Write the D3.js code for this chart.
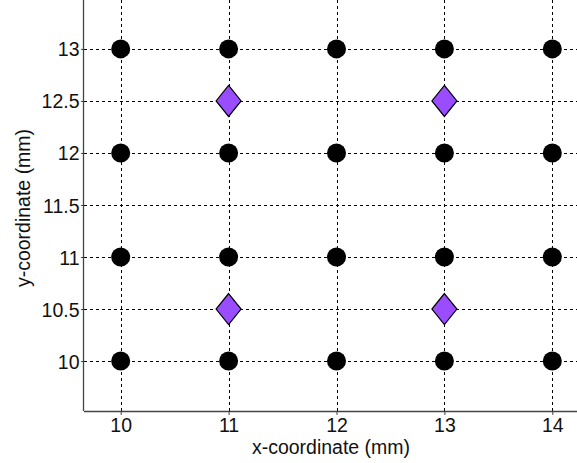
<!DOCTYPE html>
<html>
<head>
<meta charset="utf-8">
<script src="https://cdnjs.cloudflare.com/ajax/libs/d3/7.8.5/d3.min.js"></script>
<style>
  html, body { margin: 0; padding: 0; background: #fff; }
  svg { display: block; }
  text { font-family: "Liberation Sans", Arial, sans-serif; }
</style>
</head>
<body>
<svg id="chart" width="577" height="463"></svg>
<script>
// Sensor grid positions (mm)
const circleX = [10, 11, 12, 13, 14, 10, 11, 12, 13, 14, 10, 11, 12, 13, 14, 10, 11, 12, 13, 14];
const circleY = [13, 13, 13, 13, 13, 12, 12, 12, 12, 12, 11, 11, 11, 11, 11, 10, 10, 10, 10, 10];
// Source positions (mm)
const diamondX = [11, 13, 11, 13];
const diamondY = [12.5, 12.5, 10.5, 10.5];
// Axis ticks
const xTicks = [10, 11, 12, 13, 14];
const yTicks = [10, 10.5, 11, 11.5, 12, 12.5, 13];
const xLabel = "x-coordinate (mm)";
const yLabel = "y-coordinate (mm)";

const svg = d3.select("#chart");
const plotLeft = 84, plotRight = 589, plotTop = 0, plotBottom = 411;

const x = d3.scaleLinear().domain([9.66, 14.34]).range([plotLeft, plotRight]);
const y = d3.scaleLinear().domain([9.52, 13.47]).range([plotBottom, plotTop]);

const fontSize = 19.5;
const axisColor = "#444";

// Grid lines
const grid = svg.append("g");
grid.selectAll("line.vx").data(xTicks).join("line")
  .attr("x1", d => Math.round(x(d)) + 0.5).attr("x2", d => Math.round(x(d)) + 0.5)
  .attr("y1", plotBottom).attr("y2", -5)
  .attr("stroke", "#000").attr("stroke-width", 1)
  .attr("stroke-dasharray", "3,3");
grid.selectAll("line.hy").data(yTicks).join("line")
  .attr("x1", plotLeft).attr("x2", 600)
  .attr("y1", d => Math.round(y(d)) + 0.5).attr("y2", d => Math.round(y(d)) + 0.5)
  .attr("stroke", "#000").attr("stroke-width", 1)
  .attr("stroke-dasharray", "3,3");

// Axes
const xAxis = d3.axisBottom(x).tickValues(xTicks).tickSize(4).tickPadding(3.5).tickFormat(d3.format("~g"));
const yAxis = d3.axisLeft(y).tickValues(yTicks).tickSize(3).tickPadding(1.5).tickFormat(d3.format("~g"));

const gx = svg.append("g").attr("transform", `translate(0,${plotBottom})`).call(xAxis);
const gy = svg.append("g").attr("transform", `translate(${plotLeft},0)`).call(yAxis);
[gx, gy].forEach(g => {
  g.attr("font-size", fontSize).attr("font-family", '"Liberation Sans", Arial, sans-serif');
  g.select(".domain").attr("stroke", axisColor).attr("stroke-width", 1.3);
  g.selectAll(".tick line").attr("stroke", axisColor);
  g.selectAll(".tick text").attr("fill", "#111");
});
gy.selectAll(".tick text").attr("dy", "0.36em");
gx.select(".domain").attr("d", `M${plotLeft},0.5H${plotRight}`);
gy.select(".domain").attr("d", `M-0.5,${plotBottom}V-5`);

// Circle markers
svg.append("g").selectAll("circle").data(circleX.map((d, i) => [d, circleY[i]])).join("circle")
  .attr("cx", d => x(d[0])).attr("cy", d => y(d[1]))
  .attr("r", 9.5).attr("fill", "#000");

// Diamond markers
svg.append("g").selectAll("path").data(diamondX.map((d, i) => [d, diamondY[i]])).join("path")
  .attr("d", d => {
    const cx = x(d[0]), cy = y(d[1]), hw = 12.5, hh = 15.5;
    return `M${cx},${cy - hh}L${cx + hw},${cy}L${cx},${cy + hh}L${cx - hw},${cy}Z`;
  })
  .attr("fill", "#994dff").attr("stroke", "#000").attr("stroke-width", 1.2);

// Axis labels
svg.append("text").attr("x", 331).attr("y", 454)
  .attr("text-anchor", "middle").attr("font-size", fontSize).attr("fill", "#111")
  .text(xLabel);
svg.append("text").attr("transform", `translate(30,208) rotate(-90)`)
  .attr("text-anchor", "middle").attr("font-size", fontSize).attr("fill", "#111")
  .text(yLabel);
</script>
</body>
</html>
